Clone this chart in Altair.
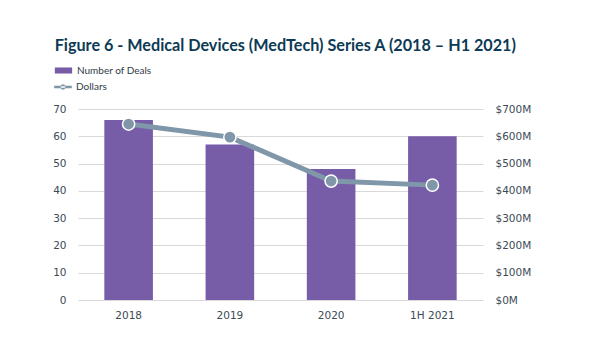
import altair as alt
import pandas as pd

periods = ["2018", "2019", "2020", "1H  2021"]
deals = [66, 57, 48, 60]
dollars = [645, 597, 436, 421]

df = pd.DataFrame({
    "period": periods,
    "deals": deals,
    "dollars": dollars,
    "s_bar": ["Number of Deals"] * 4,
    "s_line": ["Dollars"] * 4,
})

LABEL_COLOR = "#3c4a56"
BAR = "#775DA8"
LINE = "#7F97A8"

x = alt.X("period:N", sort=periods, title=None,
          scale=alt.Scale(paddingInner=0.52, paddingOuter=0.26),
          axis=alt.Axis(labelAngle=0, domain=False, ticks=False, labelPadding=10,
                        labelFont="DejaVu Sans", labelFontSize=10.5, labelColor=LABEL_COLOR))

bars = alt.Chart(df).mark_bar(color=BAR).encode(
    x=x,
    y=alt.Y("deals:Q", title=None,
            scale=alt.Scale(domain=[0, 70]),
            axis=alt.Axis(values=list(range(0, 71, 10)), domain=False, ticks=False,
                          labelPadding=12, gridColor="#d9d9d9", gridWidth=1,
                          labelFont="DejaVu Sans", labelFontSize=10.5, labelColor=LABEL_COLOR)),
    fill=alt.Fill("s_bar:N", title=None,
                  scale=alt.Scale(range=[BAR]),
                  legend=alt.Legend(orient="none", legendX=-24, legendY=-48,
                                    symbolType="M-1,-0.35H1V0.35H-1Z", symbolSize=300,
                                    labelFont="Lato", labelFontSize=10, labelColor="#2f3b46")),
)

yr = alt.Y("dollars:Q", title=None,
           scale=alt.Scale(domain=[0, 700]),
           axis=alt.Axis(orient="right", values=list(range(0, 701, 100)), grid=False,
                         domain=False, ticks=False, labelPadding=12,
                         labelExpr="'$' + datum.value + 'M'",
                         labelFont="DejaVu Sans", labelFontSize=10.5, labelColor=LABEL_COLOR))

line = alt.Chart(df).mark_line(strokeWidth=5, color=LINE).encode(
    x=x,
    y=yr,
    stroke=alt.Stroke("s_line:N", title=None,
                      scale=alt.Scale(range=[LINE]),
                      legend=alt.Legend(orient="none", legendX=-24, legendY=-31,
                                        symbolType="M-1,-0.12H1V0.12H-1Z M-0.28,0 A0.28,0.28 0 1,0 0.28,0 A0.28,0.28 0 1,0 -0.28,0Z",
                                        symbolFillColor=LINE, symbolStrokeWidth=0.5, symbolSize=300,
                                        labelFont="Lato", labelFontSize=10, labelColor="#2f3b46")),
)
points = alt.Chart(df).mark_point(filled=True, size=150, color=LINE, stroke="white",
                                  strokeWidth=1.5, opacity=1).encode(
    x=x,
    y=yr,
)

chart = alt.layer(bars, alt.layer(line, points)).resolve_scale(y="independent").properties(
    width=405, height=191,
    padding={"left": 70, "top": 101, "right": 100, "bottom": 45},
    autosize=alt.AutoSizeParams(type="none"),
    title=alt.TitleParams(
        "Figure 6 - Medical Devices (MedTech) Series A (2018 \u2013 H1 2021)",
        anchor="start", dx=2, offset=7, font="Lato", fontSize=16.2, fontWeight="bold",
        color="#0d3a55"),
).configure_view(stroke=None)

chart.save("out.html", embed_options={"renderer": "svg", "actions": False})
